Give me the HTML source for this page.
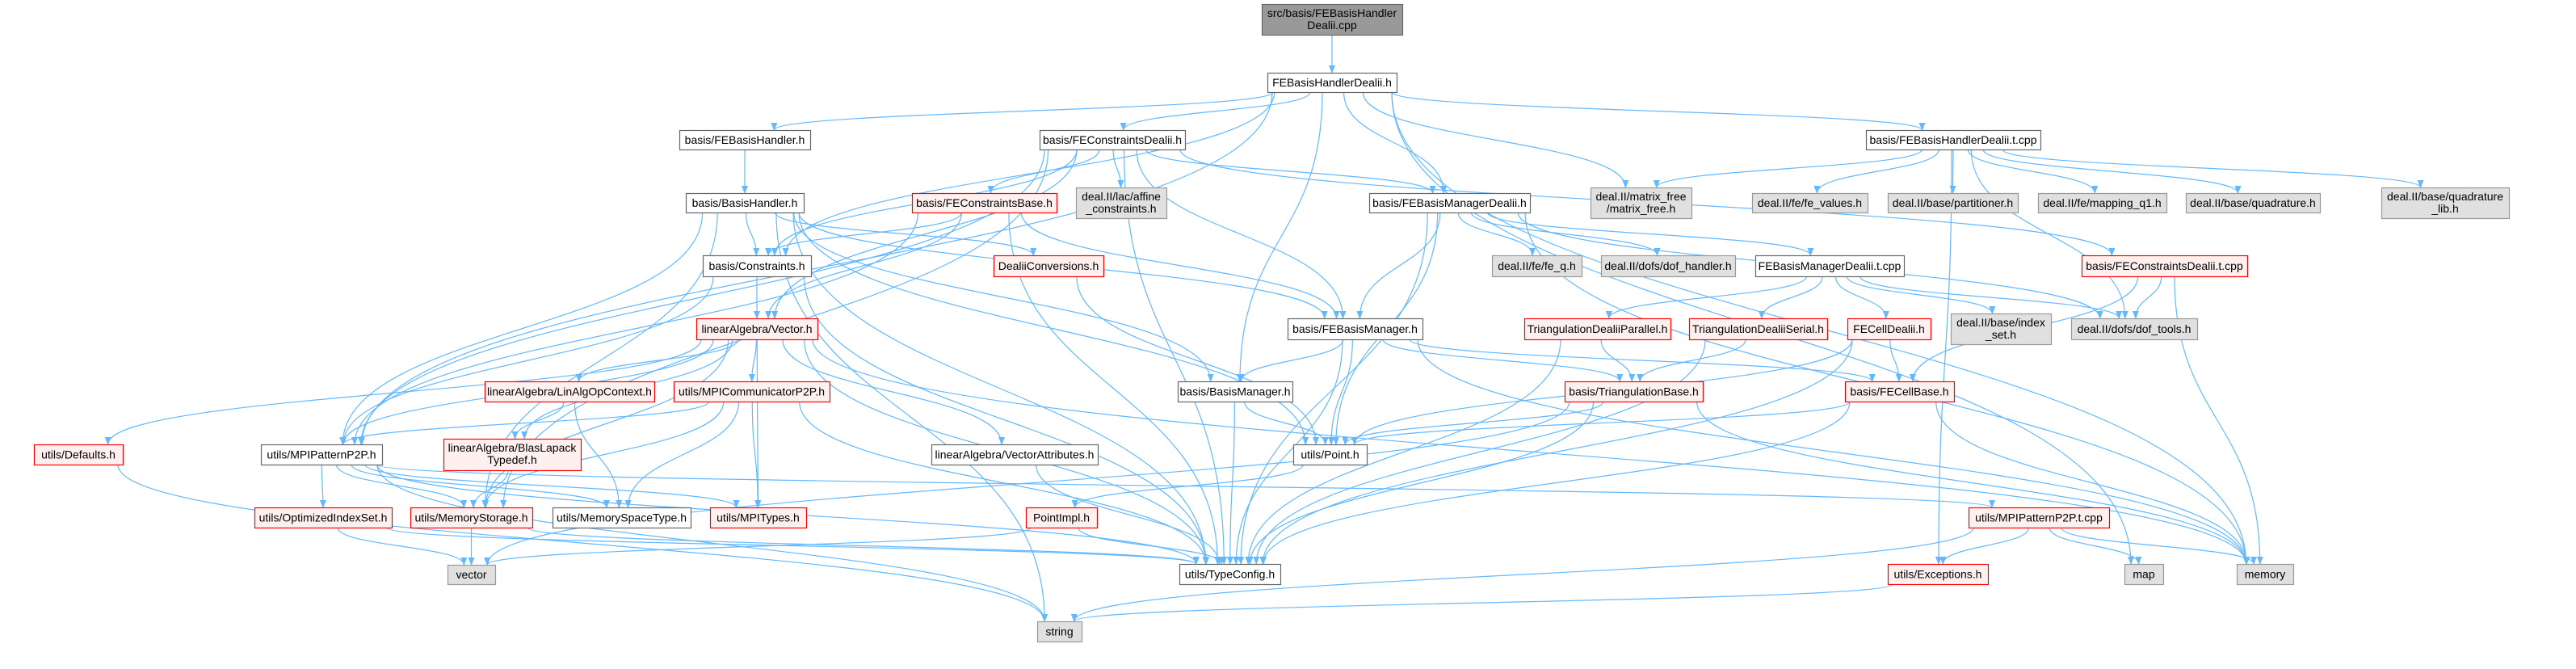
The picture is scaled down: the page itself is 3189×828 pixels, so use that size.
<!DOCTYPE html>
<html><head><meta charset="utf-8"><style>
body{margin:0;background:#fff;}
svg{display:block}
text{font-family:"Liberation Sans",sans-serif;font-size:14px;fill:#000}
</style></head><body>
<svg id="g" width="3189" height="828" xmlns="http://www.w3.org/2000/svg">
<defs><marker id="a" markerWidth="10" markerHeight="8" refX="9" refY="4" orient="auto" markerUnits="userSpaceOnUse"><path d="M0,0 L10,4 L0,8 z" fill="#63b8ff"/></marker></defs>
<g id="e"></g><g id="n"></g>
</svg>
<script>
var W='w',R='r',G='g',D='d';
var N={
root:[1562,5,1736,43,D,'src/basis/FEBasisHandler','Dealii.cpp'],
hd:[1569,90,1729,114,W,'FEBasisHandlerDealii.h'],
fbh:[841,161,1003,185,W,'basis/FEBasisHandler.h'],
fcd:[1287,161,1467,185,W,'basis/FEConstraintsDealii.h'],
htc:[2310,161,2526,185,W,'basis/FEBasisHandlerDealii.t.cpp'],
aff:[1332,232,1444,270,G,'deal.II/lac/affine','_constraints.h'],
bh:[849,239,995,263,W,'basis/BasisHandler.h'],
fcb:[1129,239,1308,263,R,'basis/FEConstraintsBase.h'],
fbmd:[1695,239,1894,263,W,'basis/FEBasisManagerDealii.h'],
mf:[1969,232,2094,270,G,'deal.II/matrix_free','/matrix_free.h'],
fev:[2169,239,2312,263,G,'deal.II/fe/fe_values.h'],
part:[2337,239,2498,263,G,'deal.II/base/partitioner.h'],
mq1:[2523,239,2682,263,G,'deal.II/fe/mapping_q1.h'],
quad:[2706,239,2872,263,G,'deal.II/base/quadrature.h'],
ql:[2948,232,3106,270,G,'deal.II/base/quadrature','_lib.h'],
con:[870,316,1004,342,W,'basis/Constraints.h'],
dc:[1230,316,1366,342,R,'DealiiConversions.h'],
feq:[1847,316,1958,342,G,'deal.II/fe/fe_q.h'],
dofh:[1982,316,2148,342,G,'deal.II/dofs/dof_handler.h'],
bmtc:[2173,316,2357,342,W,'FEBasisManagerDealii.t.cpp'],
fctc:[2577,316,2782,342,R,'basis/FEConstraintsDealii.t.cpp'],
vec:[862,394,1012,420,R,'linearAlgebra/Vector.h'],
fbm:[1594,394,1761,420,W,'basis/FEBasisManager.h'],
tdp:[1887,394,2068,420,R,'TriangulationDealiiParallel.h'],
tds:[2091,394,2262,420,R,'TriangulationDealiiSerial.h'],
fcdl:[2287,394,2390,420,R,'FECellDealii.h'],
idx:[2415,388,2539,426,G,'deal.II/base/index','_set.h'],
dt:[2564,394,2720,420,G,'deal.II/dofs/dof_tools.h'],
lao:[600,472,810,497,R,'linearAlgebra/LinAlgOpContext.h'],
mpc:[834,472,1027,497,R,'utils/MPICommunicatorP2P.h'],
bm:[1458,472,1600,497,W,'basis/BasisManager.h'],
tb:[1937,472,2108,497,R,'basis/TriangulationBase.h'],
fceb:[2284,472,2419,497,R,'basis/FECellBase.h'],
def:[42,550,152,575,R,'utils/Defaults.h'],
mpp:[323,550,473,575,W,'utils/MPIPatternP2P.h'],
bl:[549,543,719,582,R,'linearAlgebra/BlasLapack','Typedef.h'],
va:[1153,550,1359,575,W,'linearAlgebra/VectorAttributes.h'],
pt:[1601,550,1692,575,W,'utils/Point.h'],
ois:[315,628,485,653,R,'utils/OptimizedIndexSet.h'],
ms:[508,628,659,653,R,'utils/MemoryStorage.h'],
mst:[684,628,855,653,W,'utils/MemorySpaceType.h'],
mpt:[879,628,998,653,R,'utils/MPITypes.h'],
pi:[1270,628,1358,653,R,'PointImpl.h'],
mptc:[2437,628,2611,653,R,'utils/MPIPatternP2P.t.cpp'],
vc:[554,699,613,723,G,'vector'],
tc:[1460,698,1585,723,W,'utils/TypeConfig.h'],
ex:[2337,698,2461,723,R,'utils/Exceptions.h'],
map:[2630,698,2678,723,G,'map'],
mem:[2769,698,2839,723,G,'memory'],
str:[1284,769,1339,794,G,'string']
};
var E=[['root','hd'],
['hd','fbh'],['hd','fcd'],['hd','con'],['hd','mpp'],['hd','bm'],['hd','fbmd'],['hd','mf'],['hd','htc'],['hd','map'],['hd','mem'],
['fbh','bh'],
['bh','con'],['bh','dc'],['bh','bm'],['bh','mpp'],['bh','ms'],['bh','str'],['bh','tc'],['bh','pt'],['bh','fbm'],
['fcd','fcb'],['fcd','aff'],['fcd','vec'],['fcd','con'],['fcd','fbm'],['fcd','fbmd'],['fcd','tc'],['fcd','mpp'],['fcd','ms'],['fcd','fctc'],
['fcb','con'],['fcb','vec'],['fcb','fbm'],['fcb','tc'],['fcb','mpp'],
['con','vec'],['con','mpp'],['con','tc'],
['dc','pt'],
['vec','mpc'],['vec','lao'],['vec','bl'],['vec','va'],['vec','mpt'],['vec','tc'],['vec','ms'],['vec','mpp'],['vec','def'],['vec','mem'],
['lao','bl'],['lao','mst'],
['mpc','mpp'],['mpc','ms'],['mpc','mst'],['mpc','mpt'],['mpc','tc'],
['mpp','ois'],['mpp','ms'],['mpp','mst'],['mpp','mpt'],['mpp','mptc'],['mpp','str'],['mpp','tc'],
['bl','ms'],['ois','vc'],['ois','tc'],['ms','vc'],['ms','tc'],['def','str'],['va','tc'],['pi','vc'],['pi','tc'],['pt','pi'],
['bm','pt'],['bm','tc'],
['fbm','bm'],['fbm','pt'],['fbm','tc'],['fbm','tb'],['fbm','fceb'],['fbm','mem'],
['fbmd','fbm'],['fbmd','feq'],['fbmd','dofh'],['fbmd','bmtc'],['fbmd','tc'],['fbmd','pt'],['fbmd','mem'],['fbmd','dt'],
['bmtc','tdp'],['bmtc','tds'],['bmtc','fcdl'],['bmtc','idx'],['bmtc','dt'],
['tdp','tb'],['tdp','tc'],['tds','tb'],['tds','tc'],
['fcdl','fceb'],['fcdl','pt'],['fcdl','tc'],
['tb','pt'],['tb','tc'],['tb','vc'],['tb','mem'],
['fceb','pt'],['fceb','tc'],['fceb','mem'],
['htc','mf'],['htc','fev'],['htc','part'],['htc','mq1'],['htc','quad'],['htc','ql'],['htc','ex'],['htc','dt'],
['fctc','dt'],['fctc','fceb'],['fctc','mem'],
['mptc','ex'],['mptc','map'],['mptc','mem'],['mptc','str'],
['ex','str']];
var NS='http://www.w3.org/2000/svg';
var eg=document.getElementById('e'),ng=document.getElementById('n');
function el(t,a,p){var x=document.createElementNS(NS,t);for(var k in a)x.setAttribute(k,a[k]);p.appendChild(x);return x;}
E.forEach(function(e){var s=N[e[0]],t=N[e[1]];
var sx=(s[0]+s[2])/2,tx=(t[0]+t[2])/2,d;
if(t[1]>s[3]+5){var sy=s[3],ty=t[1];var dx=tx-sx;sx+=Math.max(-(s[2]-s[0])/2+6,Math.min((s[2]-s[0])/2-6,dx*0.1));
tx-=Math.max(-(t[2]-t[0])/3,Math.min((t[2]-t[0])/3,dx*0.05));
var m=(ty-sy)*0.5;d='M'+sx+','+sy+' C'+sx+','+(sy+m)+' '+tx+','+(ty-m)+' '+tx+','+ty;}
else if(t[3]<s[1]){d='M'+sx+','+s[1]+' L'+tx+','+t[3];}
else{var lr=tx>sx;var x1=lr?s[2]:s[0],x2=lr?t[0]:t[2],y1=(s[1]+s[3])/2,y2=(t[1]+t[3])/2;d='M'+x1+','+y1+' C'+((x1+x2)/2)+','+y1+' '+((x1+x2)/2)+','+y2+' '+x2+','+y2;}
el('path',{d:d,fill:'none',stroke:'#63b8ff','stroke-width':1.2,'marker-end':'url(#a)'},eg);});
var st={w:['#fff','#666'],r:['#fff0f0','#ff0000'],g:['#e0e0e0','#999'],d:['#999','#666']};
for(var k in N){var n=N[k];var c=st[n[4]];
el('rect',{x:n[0]+0.5,y:n[1]+0.5,width:n[2]-n[0],height:n[3]-n[1],fill:c[0],stroke:c[1],'stroke-width':1.2},ng);
var cx=(n[0]+n[2])/2;
if(n.length>6){var t1=el('text',{x:cx,y:n[1]+16,'text-anchor':'middle'},ng);t1.textContent=n[5];
var t2=el('text',{x:cx,y:n[1]+31,'text-anchor':'middle'},ng);t2.textContent=n[6];}
else{var t=el('text',{x:cx,y:(n[1]+n[3])/2+5,'text-anchor':'middle'},ng);t.textContent=n[5];}}
</script>
</body></html>
